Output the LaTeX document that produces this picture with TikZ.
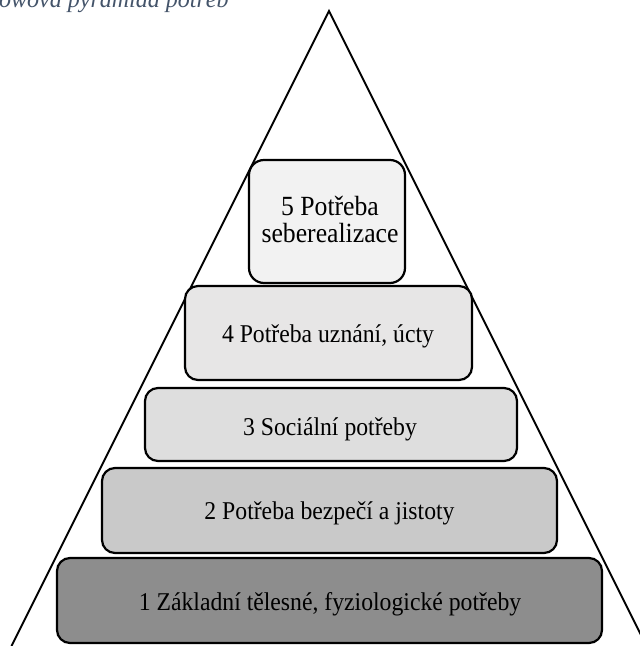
\documentclass[tikz,border=0pt]{standalone}
\usepackage{fontspec}
\usepackage{graphicx}
\setmainfont{Liberation Serif}
\definecolor{captioncol}{HTML}{44546A}
\definecolor{fillfive}{HTML}{F2F2F2}
\definecolor{fillfour}{HTML}{E7E6E6}
\definecolor{fillthree}{HTML}{DEDEDE}
\definecolor{filltwo}{HTML}{C9C9C9}
\definecolor{fillone}{HTML}{8D8D8D}
\newcommand{\talltext}[1]{\scalebox{1}[1.08]{#1}}
\begin{document}
\begin{tikzpicture}[x=1pt,y=-1pt,
  levelbox/.style={draw=black,line width=2.2pt,rounded corners=13pt},
  leveltext/.style={inner sep=0pt,anchor=base,text=black,
    font=\fontsize{23.7}{26}\selectfont},
  edge/.style={line width=2pt,draw=black}]
\useasboundingbox (0,0) rectangle (640,646);
\clip (0,0) rectangle (640,646);
\fill[white] (0,0) rectangle (640,646);
% caption (cut off at the top, as in the reference)
\node[anchor=base west,inner sep=0pt,text=captioncol,
  font=\fontsize{24}{28}\itshape] (cap) at (-1,7.5) {owova pyramida potřeb};
% triangle
\coordinate (apex) at (329,11);
\coordinate (bl) at (11.5,646);
\coordinate (br) at (646.5,646);
\draw[edge,line join=miter] (bl) -- (apex) -- (br);
% levels
\path[levelbox,fill=fillfive,rounded corners=15pt] (249,160) rectangle (405,283);
\node[leveltext,font=\fontsize{25.7}{23}\selectfont] (l5) at (330,215.5)
  {\talltext{\begin{tabular}[t]{@{}c@{}}5 Potřeba\\seberealizace\end{tabular}}};
\path[levelbox,fill=fillfour] (185,286) rectangle (472,380);
\node[leveltext] (l4) at (328,342) {\talltext{4 Potřeba uznání, úcty}};
\path[levelbox,fill=fillthree] (145,388) rectangle (517,461);
\node[leveltext] (l3) at (330,435) {\talltext{3 Sociální potřeby}};
\path[levelbox,fill=filltwo] (102,468) rectangle (557,553);
\node[leveltext] (l2) at (329.5,519) {\talltext{2 Potřeba bezpečí a jistoty}};
\path[levelbox,fill=fillone] (57,558) rectangle (602,643);
\node[leveltext] (l1) at (330,610) {\talltext{1 Základní tělesné, fyziologické potřeby}};
\end{tikzpicture}
\end{document}
